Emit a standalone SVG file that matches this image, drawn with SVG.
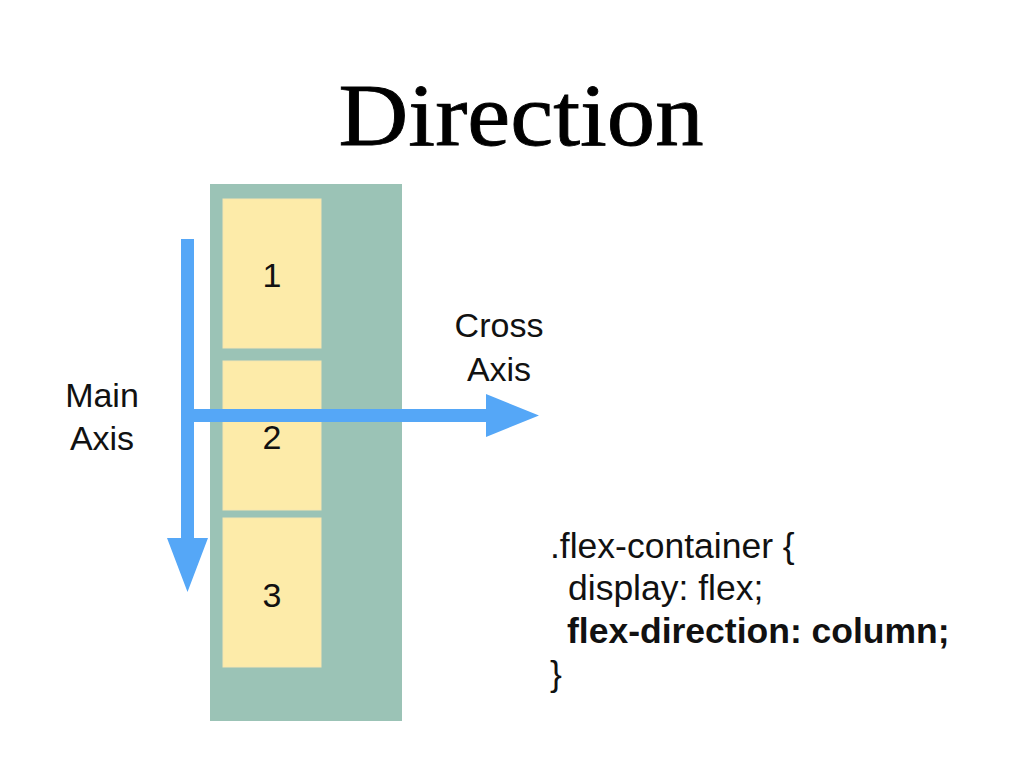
<svg xmlns="http://www.w3.org/2000/svg" width="1024" height="768" viewBox="0 0 1024 768">
<style>
.sans{font-family:"Liberation Sans",Arial,sans-serif;fill:#111;}
.lbl{font-size:34px;text-anchor:middle;}
.code{font-size:35.5px;}
.item{fill:#FDEBA9;stroke:#F6E6B0;stroke-width:1;}
.arrow{fill:#55A7F7;}
</style>
<rect width="1024" height="768" fill="#ffffff"/>
<text x="521" y="145" font-family="'Liberation Serif','DejaVu Serif',serif" font-size="88" text-anchor="middle" textLength="365" lengthAdjust="spacingAndGlyphs" fill="#000" stroke="#000" stroke-width="0.8">Direction</text>
<g id="container"><rect x="210" y="184" width="192" height="537" fill="#9BC3B6"/></g>
<g id="item1"><rect class="item" x="223" y="199" width="98" height="149"/><text class="sans lbl" x="272" y="287">1</text></g>
<g id="item2"><rect class="item" x="223" y="361" width="98" height="149"/><text class="sans lbl" x="272" y="449">2</text></g>
<g id="item3"><rect class="item" x="223" y="518" width="98" height="149"/><text class="sans lbl" x="272" y="607">3</text></g>
<g id="connectors">
<path class="arrow" d="M181 239 H194 V538 H208 L187.5 592 L167 538 H181 Z"/>
<path class="arrow" d="M181 409 H486 V394 L539 415.5 L486 437 V422 H181 Z"/>
</g>
<g id="main-axis-label"><text class="sans lbl" x="102" y="407">Main</text><text class="sans lbl" x="102" y="450">Axis</text></g>
<g id="cross-axis-label"><text class="sans lbl" x="499" y="337">Cross</text><text class="sans lbl" x="499" y="381">Axis</text></g>
<g id="code">
<text class="sans code" x="550" y="558">.flex-container {</text>
<text class="sans code" x="568" y="600">display: flex;</text>
<text class="sans code" x="567" y="643" font-weight="bold">flex-direction: column;</text>
<text class="sans code" x="550" y="686">}</text>
</g>
</svg>
